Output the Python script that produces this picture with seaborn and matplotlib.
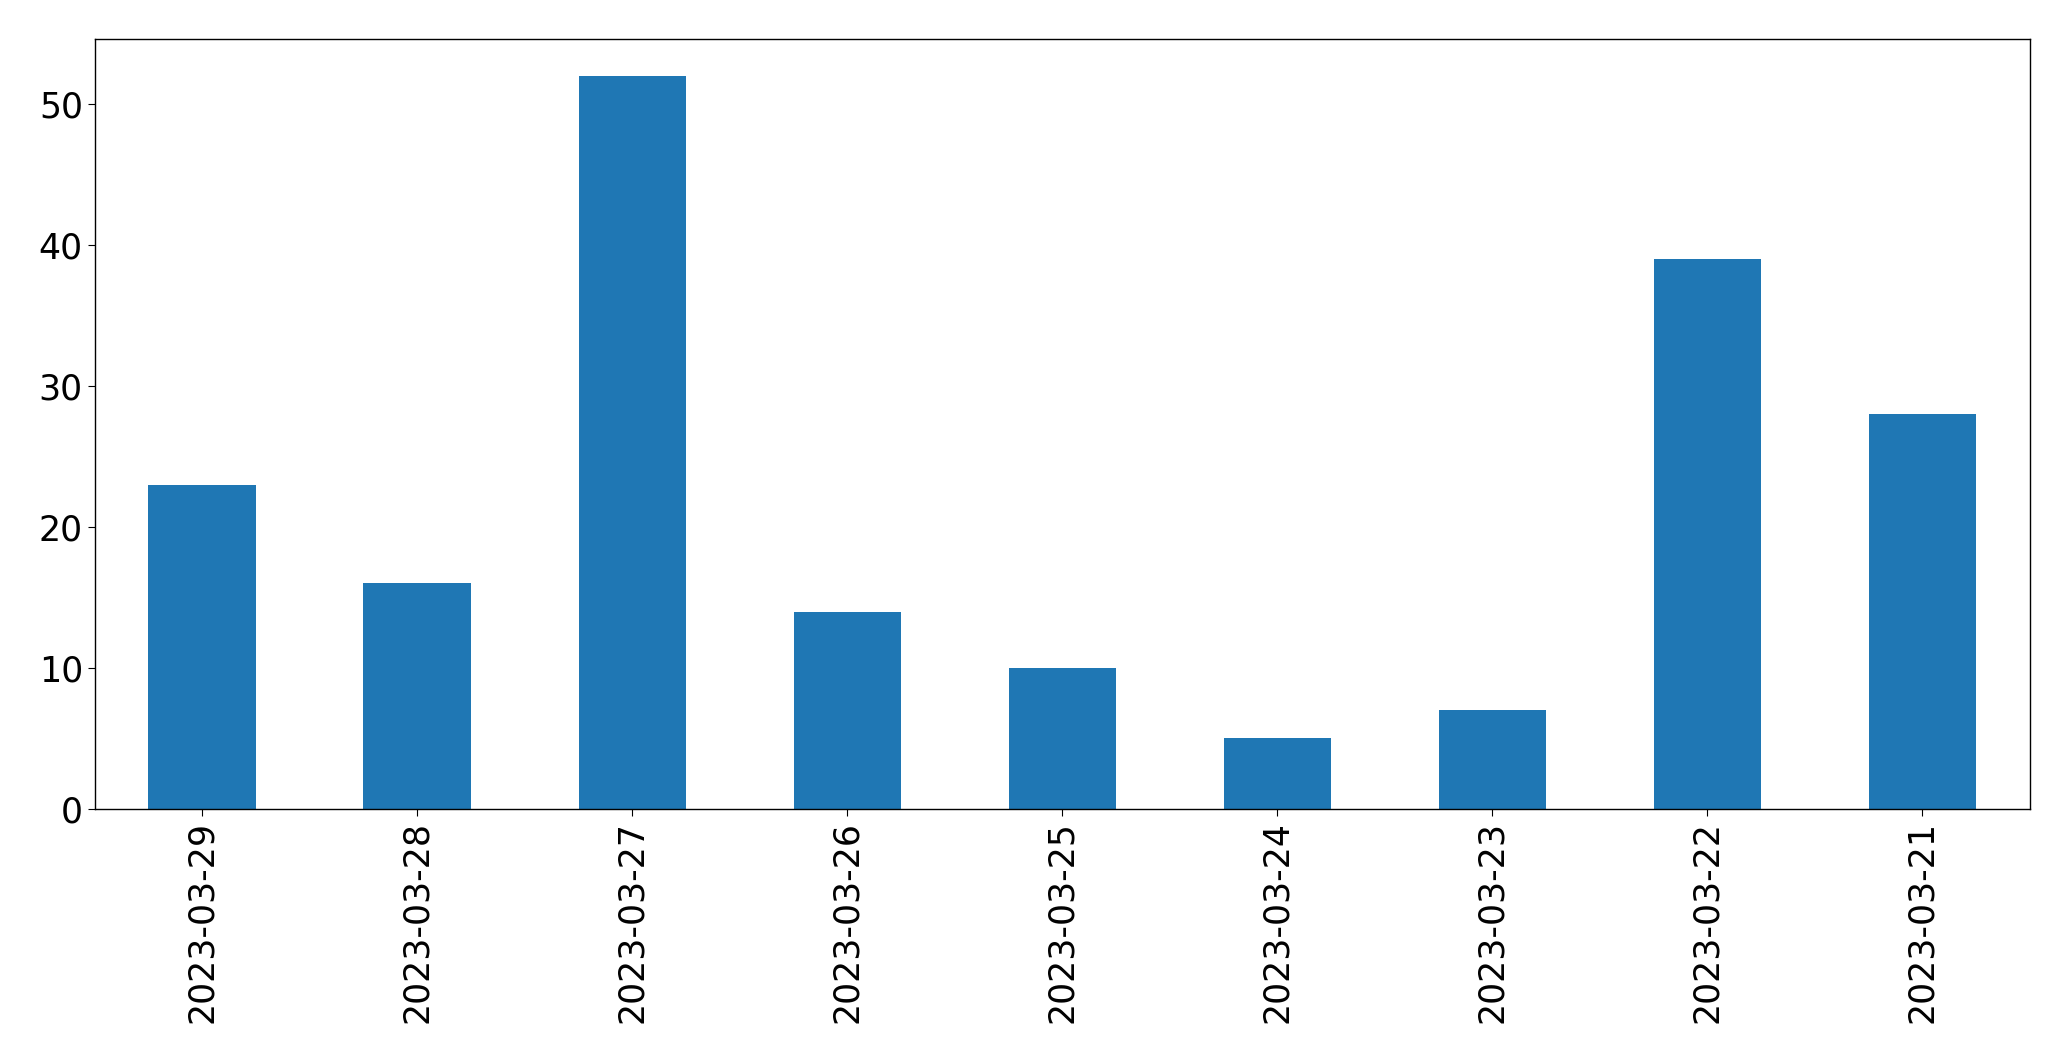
import matplotlib
matplotlib.use("Agg")
import matplotlib.pyplot as plt
import seaborn as sns
import pandas as pd

dates = ["2023-03-29", "2023-03-28", "2023-03-27", "2023-03-26", "2023-03-25",
         "2023-03-24", "2023-03-23", "2023-03-22", "2023-03-21"]
counts = [23, 16, 52, 14, 10, 5, 7, 39, 28]

df = pd.DataFrame({"date": dates, "count": counts})

fig = plt.figure(figsize=(20.71, 10.61), dpi=100)
ax = fig.add_axes([94.7 / 2071, 1 - 809 / 1061, (2030 - 94.7) / 2071, (809 - 39) / 1061])
sns.barplot(data=df, x="date", y="count", order=dates, color="#1f77b4",
            saturation=1, width=0.5, ax=ax)
ax.set_xlim(-0.5, len(dates) - 0.5)
ax.set_ylim(0, max(counts) * 1.05)
ax.set_xlabel("")
ax.set_ylabel("")
ax.tick_params(axis="both", labelsize=25, length=5)
ax.tick_params(axis="x", labelrotation=90)
for s in ax.spines.values():
    s.set_linewidth(1.0)
fig.savefig("out.png", dpi=100)
